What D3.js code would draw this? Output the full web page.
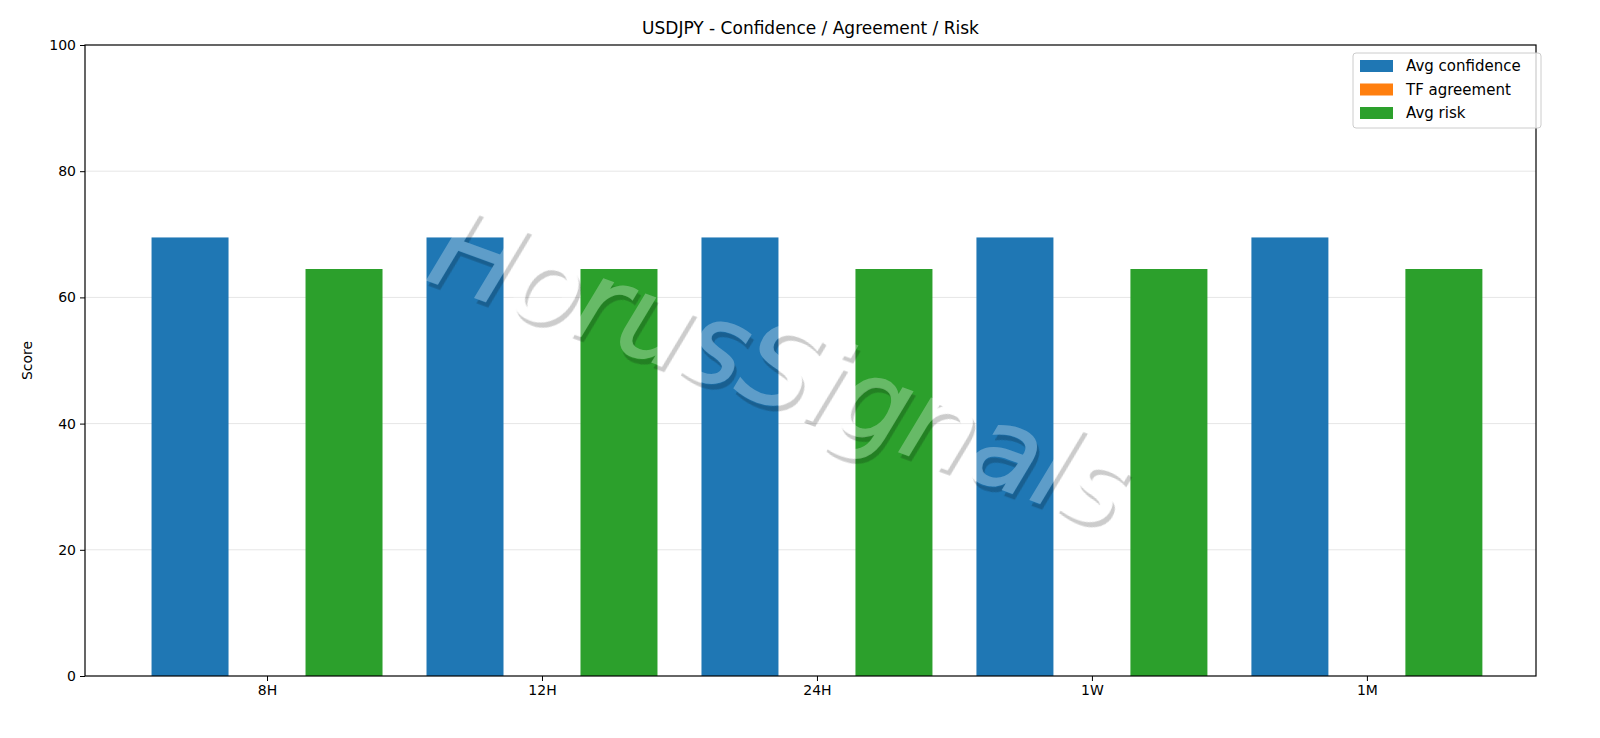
<!DOCTYPE html>
<html><head><meta charset="utf-8">
<script src="https://cdn.jsdelivr.net/npm/d3@7"></script>
<style>body{margin:0;background:#fff}text{font-family:"DejaVu Sans",sans-serif}</style>
</head><body><svg id="c" width="1600" height="738"></svg>
<script>
const categories=["8H","12H","24H","1W","1M"];
const series=["Avg confidence","TF agreement","Avg risk"];
const colors=["#1f77b4","#ff7f0e","#2ca02c"];
const avgConfidence=[69.5,69.5,69.5,69.5,69.5];
const tfAgreement=[0,0,0,0,0];
const avgRisk=[64.5,64.5,64.5,64.5,64.5];
const yTicks=[0,20,40,60,80,100];
const vals=[avgConfidence,tfAgreement,avgRisk];
const svg=d3.select("#c");
const L=85,R=1536,T=45,B=676;
const x=d3.scaleLinear().domain([-0.662,4.615]).range([L,R]);
const y=d3.scaleLinear().domain([0,100]).range([B,T]);
const bw=0.28;
svg.append("g").selectAll("line").data(yTicks.slice(1,-1)).join("line")
 .attr("x1",L).attr("x2",R).attr("y1",d=>y(d)).attr("y2",d=>y(d)).attr("stroke","#e6e6e6").attr("stroke-width",1);
vals.forEach((arr,s)=>{
 svg.append("g").selectAll("rect").data(arr).join("rect")
  .attr("x",(d,i)=>x(i+(s-1)*bw-bw/2)).attr("width",x(bw)-x(0))
  .attr("y",d=>y(d)).attr("height",d=>B-y(d)).attr("fill",colors[s]);
});
// watermark
svg.append("defs").html(`<filter id="sh" x="-20%" y="-50%" width="140%" height="200%">
<feOffset in="SourceAlpha" dx="4" dy="4" result="o"/>
<feComposite in="o" in2="SourceAlpha" operator="out" result="s"/>
<feFlood flood-color="#000" flood-opacity="0.2"/>
<feComposite in2="s" operator="in"/></filter>`);
const wm=svg.append("g").attr("transform","translate(778,375) rotate(20)");
wm.append("text").attr("text-anchor","middle").attr("dominant-baseline","middle")
 .attr("font-size",112).attr("font-style","italic").attr("fill","#000").attr("stroke","#000").attr("stroke-width",1.5).attr("filter","url(#sh)").text("HorusSignals");
wm.append("text").attr("text-anchor","middle").attr("dominant-baseline","middle")
 .attr("font-size",112).attr("font-style","italic").attr("fill","#fff").attr("stroke","#fff").attr("stroke-width",1.5).attr("opacity",0.28).text("HorusSignals");
const ya=svg.append("g").attr("transform",`translate(${L},0)`).call(d3.axisLeft(y).tickValues(yTicks).tickSize(5).tickPadding(4));
const xa=svg.append("g").attr("transform",`translate(0,${B})`).call(d3.axisBottom(x).tickValues(d3.range(5)).tickFormat(i=>categories[i]).tickSize(5).tickPadding(4));
[ya,xa].forEach(a=>{a.select(".domain").remove();a.selectAll("text").attr("font-size",14).attr("fill","#000").style("font-family","DejaVu Sans");a.selectAll("line").attr("stroke","#000");});
svg.append("rect").attr("x",L).attr("y",T).attr("width",R-L).attr("height",B-T).attr("fill","none").attr("stroke","#000").attr("stroke-width",1.2);
svg.append("text").attr("x",(L+R)/2).attr("y",34).attr("text-anchor","middle").attr("font-size",17).text("USDJPY - Confidence / Agreement / Risk");
svg.append("text").attr("transform",`translate(32,${(T+B)/2}) rotate(-90)`).attr("text-anchor","middle").attr("font-size",14).text("Score");
const lg=svg.append("g");
lg.append("rect").attr("x",1353).attr("y",53).attr("width",188).attr("height",75).attr("rx",3).attr("fill","#fff").attr("fill-opacity",0.8).attr("stroke","#ccc");
series.forEach((s,i)=>{
 lg.append("rect").attr("x",1360).attr("y",60+i*23.5).attr("width",33).attr("height",12).attr("fill",colors[i]);
 lg.append("text").attr("x",1406).attr("y",71+i*23.5).attr("font-size",15).text(s);
});
</script></body></html>
